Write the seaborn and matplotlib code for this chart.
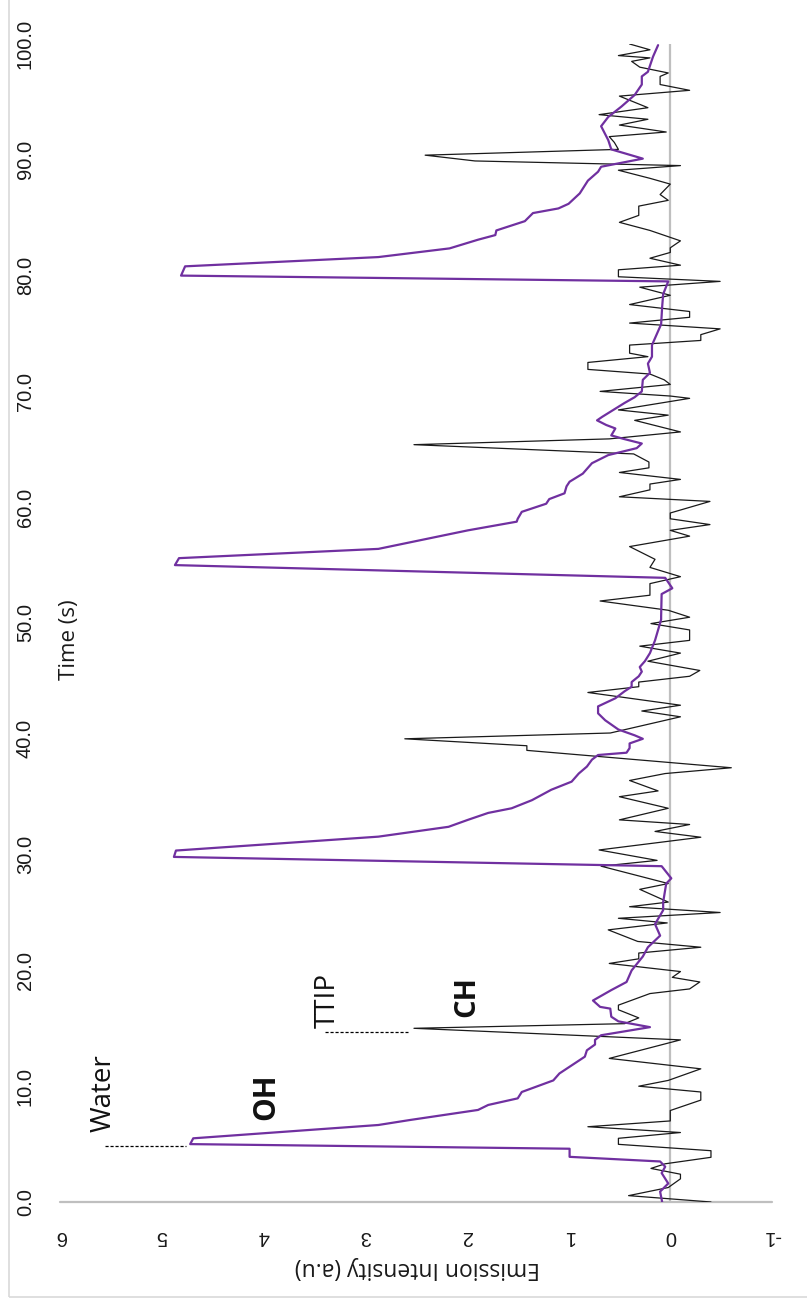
import matplotlib
matplotlib.use("Agg")
import matplotlib.pyplot as plt
import seaborn as sns
import pandas as pd
from matplotlib.patches import Rectangle

# OH emission (water pulses) - time (s), intensity (a.u.)
oh_time = [0.0, 0.9, 1.6, 2.5, 3.05, 3.5, 3.9, 4.6, 5.0, 5.5, 6.65, 7.08, 7.95, 8.38,
           8.95, 9.5, 10.5, 11.1, 12.55, 13.1, 13.6, 14.0, 14.4, 15.1, 15.6, 16.0,
           16.7, 16.85, 17.4, 18.3, 19.0, 20.0, 21.2, 22.0, 23.0, 24.0, 25.2, 25.9,
           27.5, 27.95, 29.0, 29.8, 30.35, 31.55, 32.4, 33.0, 33.6, 34.0, 34.7, 35.6,
           36.3, 37.0, 37.6, 38.2, 38.6, 38.8, 39.2, 39.6, 40.0, 40.3, 40.8, 41.6,
           42.2, 42.8, 43.5, 44.1, 44.5, 44.9, 45.4, 45.8, 46.2, 46.7, 47.4, 48.5,
           49.4, 50.3, 50.6, 52.5, 53.0, 53.9, 55.0, 55.6, 56.4, 58.0, 58.75, 59.0,
           59.6, 60.3, 60.7, 61.2, 61.8, 62.2, 62.9, 63.8, 64.5, 65.1, 65.5, 65.9,
           66.2, 66.8, 67.1, 67.5, 67.8, 68.4, 69.0, 69.5, 70.0, 71.0, 71.6, 72.4,
           73.0, 74.0, 75.0, 75.8, 77.3, 78.4, 79.5, 80.0, 80.8, 81.6, 82.35, 83.1,
           83.5, 83.9, 84.7, 85.4, 85.8, 86.2, 87.1, 88.2, 88.97, 89.4, 90.1, 90.9,
           91.7, 92.9, 93.7, 94.6, 95.6, 96.5, 97.2, 97.6, 98.9, 99.9]
oh_value = [0.08, 0.10, 0.02, 0.085, 0.05, 0.10, 0.99, 0.99, 4.72, 4.69, 2.87, 2.56,
            1.89, 1.79, 1.50, 1.46, 1.15, 1.09, 0.84, 0.82, 0.74, 0.74, 0.68, 0.20,
            0.51, 0.58, 0.59, 0.69, 0.76, 0.58, 0.43, 0.38, 0.27, 0.22, 0.10, 0.15,
            0.07, 0.07, 0.04, -0.01, 0.085, 4.88, 4.86, 2.87, 2.18, 1.99, 1.79, 1.56,
            1.36, 1.17, 0.97, 0.90, 0.82, 0.77, 0.71, 0.43, 0.40, 0.40, 0.27, 0.35,
            0.51, 0.64, 0.71, 0.71, 0.54, 0.45, 0.38, 0.38, 0.31, 0.28, 0.30, 0.25,
            0.20, 0.15, 0.12, 0.09, 0.09, 0.085, -0.02, 0.05, 4.87, 4.83, 2.87, 1.99,
            1.51, 1.50, 1.46, 1.22, 1.19, 1.04, 1.02, 0.99, 0.86, 0.77, 0.61, 0.33,
            0.28, 0.46, 0.58, 0.54, 0.63, 0.72, 0.67, 0.56, 0.45, 0.35, 0.28, 0.27,
            0.20, 0.22, 0.18, 0.18, 0.13, 0.09, 0.08, 0.07, 0.02, 4.81, 4.77, 2.87,
            2.17, 1.89, 1.72, 1.71, 1.43, 1.35, 1.10, 1.00, 0.89, 0.81, 0.71, 0.68,
            0.27, 0.58, 0.61, 0.68, 0.61, 0.48, 0.35, 0.28, 0.28, 0.22, 0.17, 0.12]

# CH emission (TTIP pulses) - time (s), intensity (a.u.)
ch_time = [0.0, 0.55, 1.25, 2.0, 2.4, 2.9, 3.3, 3.86, 4.43, 4.98, 5.5, 6.0, 6.5, 7.0,
           7.9, 8.8, 9.5, 10.0, 10.5, 11.5, 12.4, 14.0, 15.0, 15.4, 15.9, 16.6, 17.0,
           18.0, 18.4, 19.0, 19.4, 19.9, 20.6, 21.0, 21.5, 22.0, 22.5, 23.5, 24.1,
           24.5, 25.0, 25.5, 25.9, 27.0, 27.5, 29.0, 29.5, 30.4, 31.5, 32.0, 32.6,
           33.0, 34.0, 35.0, 35.5, 36.4, 37.0, 37.5, 39.0, 39.4, 40.0, 40.5, 41.9,
           42.4, 42.9, 44.0, 44.5, 44.9, 45.4, 45.9, 46.7, 47.4, 48.0, 48.5, 49.4,
           49.95, 50.5, 51.1, 51.9, 52.4, 53.4, 54.0, 54.8, 55.5, 56.6, 57.5, 58.0,
           58.5, 59.0, 59.5, 60.5, 60.9, 61.5, 62.0, 62.4, 63.0, 63.4, 63.9, 64.6,
           65.4, 65.9, 66.5, 67.5, 67.95, 68.4, 69.4, 69.6, 70.0, 70.6, 71.0, 71.5,
           71.9, 72.5, 73.0, 73.3, 74.0, 74.4, 74.9, 75.4, 75.9, 76.4, 76.9, 77.5,
           78.3, 79.0, 79.5, 79.9, 80.5, 80.9, 81.5, 82.0, 82.4, 83.0, 83.9, 84.6,
           85.2, 86.0, 86.5, 87.0, 87.9, 88.4, 89.1, 89.5, 89.9, 90.4, 90.9, 91.5,
           92.0, 92.4, 93.0, 93.5, 93.9, 94.5, 95.5, 96.0, 96.5, 97.2, 97.5, 98.0,
           98.5, 98.8, 99.0, 99.5, 100.0]
ch_value = [-0.40, 0.41, 0.02, -0.10, -0.10, 0.19, 0.05, -0.40, -0.40, 0.51, 0.51,
            -0.10, 0.81, 0.00, 0.00, -0.30, -0.30, 0.31, 0.02, -0.30, 0.60, -0.10,
            2.52, 0.45, 0.31, 0.51, 0.51, 0.20, -0.19, -0.29, -0.02, -0.10, 0.60,
            0.31, 0.31, -0.30, 0.32, 0.61, 0.03, 0.51, -0.49, 0.40, 0.02, 0.30, 0.02,
            0.68, 0.13, 0.70, -0.30, 0.15, -0.19, 0.50, 0.02, 0.50, 0.12, 0.40, 0.05,
            -0.60, 1.41, 1.41, 2.61, 0.59, -0.10, 0.28, -0.10, 0.81, 0.31, 0.31,
            -0.19, -0.29, 0.22, -0.10, 0.30, -0.19, -0.19, 0.19, -0.19, 0.02, 0.69,
            0.20, 0.20, -0.10, 0.20, 0.15, 0.40, -0.19, 0.00, -0.39, 0.00, 0.00,
            -0.39, 0.50, 0.20, 0.20, -0.10, 0.50, 0.21, 0.21, 0.36, 2.52, 0.60,
            -0.10, 0.35, 0.02, 0.51, -0.19, 0.00, 0.69, 0.00, 0.06, 0.20, 0.81, 0.81,
            0.22, 0.40, 0.40, -0.30, -0.30, -0.49, 0.40, -0.19, -0.19, 0.40, 0.00,
            0.30, -0.49, 0.51, 0.51, -0.10, 0.20, 0.00, 0.00, -0.10, 0.20, 0.50,
            0.31, 0.31, 0.02, 0.10, 0.00, 0.20, 0.51, -0.10, 1.92, 2.41, 0.51, 0.55,
            0.60, 0.04, 0.50, 0.22, 0.70, 0.22, 0.50, -0.19, 0.10, 0.10, 0.02, 0.30,
            0.38, 0.20, 0.51, 0.20, 0.40]

time_ticks = [0, 10, 20, 30, 40, 50, 60, 70, 80, 90, 100]
intensity_ticks = [6, 5, 4, 3, 2, 1, 0, -1]

sns.set_theme(style="white")
plt.rcParams["font.family"] = ["Open Sans", "DejaVu Sans"]

W, H = 807, 1312
fig = plt.figure(figsize=(W / 100, H / 100), dpi=100)

# light frame around the chart area
fig.patches.append(Rectangle((9 / W, 1 - 1297 / H), 1.0, 1.0, transform=fig.transFigure,
                             fill=False, edgecolor="#D9D9D9", linewidth=1.2))

ax = fig.add_axes([60 / W, 1 - 1202 / H, 712 / W, 1158 / H])
for s in ax.spines.values():
    s.set_visible(False)

# axis lines through zero time / zero intensity
ax.axhline(0, color="#BFBFBF", lw=1.6, clip_on=False, zorder=1)
ax.axvline(0, color="#BFBFBF", lw=1.6, zorder=1)

ch = pd.DataFrame({"time": ch_time, "intensity": ch_value})
oh = pd.DataFrame({"time": oh_time, "intensity": oh_value})
sns.lineplot(data=ch, x="intensity", y="time", orient="y", estimator=None,
             color="#1a1a1a", lw=0.9, ax=ax, zorder=3)
sns.lineplot(data=oh, x="intensity", y="time", orient="y", estimator=None,
             color="#7030A0", lw=1.6, ax=ax, zorder=4)

ax.set_xlim(6, -1)
ax.set_ylim(0, 100)
ax.set_xlabel("")
ax.set_ylabel("")

ax.set_yticks(time_ticks)
ax.set_yticklabels([f"{v:.1f}" for v in time_ticks], rotation=90, va="center",
                   family=["Liberation Sans", "DejaVu Sans"], fontsize=14.5)
ax.set_xticks(intensity_ticks)
ax.set_xticklabels([str(v) for v in intensity_ticks], rotation=180,
                   family=["Liberation Sans", "DejaVu Sans"], fontsize=14.5)
ax.tick_params(axis="y", length=0, pad=18, colors="#1a1a1a")
ax.tick_params(axis="x", length=0, pad=18, colors="#1a1a1a")

fig.text(70 / W, 1 - 640 / H, "Time (s)", rotation=90, ha="center", va="center",
         fontsize=16, color="#1a1a1a")
fig.text(417 / W, 1 - 1268 / H, "Emission Intensity (a.u)", rotation=180,
         ha="center", va="center", fontsize=16.5, color="#1a1a1a")

# labels for the precursor pulses
ax.plot([5.56, 4.76], [4.8, 4.8], ls=(0, (2.5, 1.5)), color="black", lw=0.9, zorder=5)
ax.text(5.575, 9.4, "Water", rotation=90, ha="center", va="center", fontsize=20,
        color="#111111")
ax.plot([3.39, 2.58], [14.7, 14.7], ls=(0, (2.5, 1.5)), color="black", lw=0.9, zorder=5)
ax.text(3.37, 17.4, "TTIP", rotation=90, ha="center", va="center", fontsize=20,
        color="#111111")
ax.text(3.97, 9.07, "OH", rotation=90, ha="center", va="center", fontsize=21.5,
        fontweight="bold", color="#111111")
ax.text(2.0, 17.7, "CH", rotation=90, ha="center", va="center", fontsize=21,
        fontweight="bold", color="#111111")

fig.savefig("out.png", dpi=100)
